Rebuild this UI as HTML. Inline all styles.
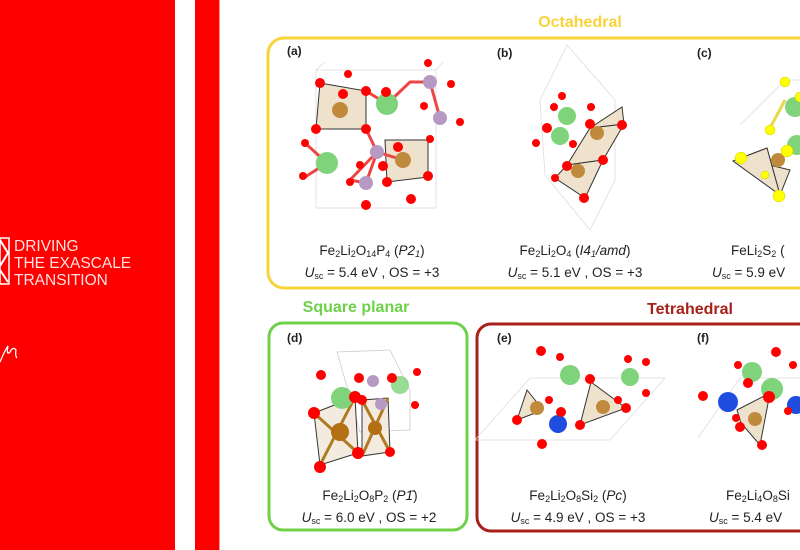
<!DOCTYPE html>
<html><head><meta charset="utf-8"><style>
html,body{margin:0;padding:0;width:800px;height:550px;overflow:hidden;background:#fff}
svg{display:block}
.t{font-family:"Liberation Sans",sans-serif;fill:#222;font-size:13.5px}
.h{font-family:"Liberation Sans",sans-serif;font-weight:bold;font-size:16px}
.lb{font-family:"Liberation Sans",sans-serif;font-size:12px;fill:#222;font-weight:bold}
</style></head><body>
<svg width="800" height="550" viewBox="0 0 800 550" xmlns="http://www.w3.org/2000/svg">
<rect x="0" y="0" width="175" height="550" fill="#ff0000"/>
<rect x="195" y="0" width="24" height="550" fill="#ff0000"/>
<rect x="219" y="0" width="1" height="550" fill="#ff9a9a"/>
<!-- logo -->
<rect x="0" y="238" width="9" height="46" fill="none" stroke="#fff" stroke-width="1.5"/>
<path d="M0 240 L8 253 L0 266 M0 270 L8 282" stroke="#fff" stroke-width="2" fill="none"/>
<g font-family="Liberation Sans,sans-serif" font-size="15.5" fill="#ffe0e0">
<text x="14" y="251">DRIVING</text>
<text x="14" y="268">THE EXASCALE</text>
<text x="14" y="285">TRANSITION</text>
</g>
<path d="M0 362 Q5 350 8 346 Q6 356 10 352 Q13 346 16 350 Q15 356 17 358" stroke="#fff" stroke-width="1.3" fill="none"/>

<!-- boxes -->
<text class="h" x="580" y="27" text-anchor="middle" fill="#f8d33a">Octahedral</text>
<rect x="268" y="38" width="560" height="250" rx="16" fill="none" stroke="#f8d33a" stroke-width="3"/>
<text class="h" x="356" y="312" text-anchor="middle" fill="#6fd04a">Square planar</text>
<rect x="269" y="323" width="198" height="207" rx="14" fill="none" stroke="#6fd04a" stroke-width="3"/>
<text class="h" x="690" y="314" text-anchor="middle" fill="#a8201a">Tetrahedral</text>
<rect x="477" y="324" width="350" height="207" rx="14" fill="none" stroke="#a8201a" stroke-width="3"/>

<text class="lb" x="287" y="55">(a)</text>
<text class="lb" x="497" y="57">(b)</text>
<text class="lb" x="697" y="57">(c)</text>
<text class="lb" x="287" y="342">(d)</text>
<text class="lb" x="497" y="342">(e)</text>
<text class="lb" x="697" y="342">(f)</text>

<!-- (a) molecule -->
<g stroke="#ddd" fill="none" stroke-width="0.8"><rect x="316" y="70" width="120" height="138"/><line x1="316" y1="70" x2="325" y2="62"/><line x1="436" y1="70" x2="443" y2="62"/></g>
<polygon points="320,83 366,91 366,129 316,129" fill="#efe2cc" stroke="#333" stroke-width="1"/>
<polygon points="385,140 428,140 428,177 387,182" fill="#efe2cc" stroke="#333" stroke-width="1"/>
<g stroke="#e44" stroke-width="3" fill="none"><path d="M366 129 L377 152 L366 183 M377 152 L403 160 M440 118 L430 82 M366 91 L387 104 L410 82 L430 82 M327 163 L305 143 M327 163 L305 177 M377 152 L350 180 L366 183"/></g>
<circle cx="340" cy="110" r="8" fill="#c08a3c"/><circle cx="403" cy="160" r="8" fill="#c08a3c"/>
<g fill="#7ed37b"><circle cx="387" cy="104" r="11"/><circle cx="327" cy="163" r="11"/></g>
<g fill="#b79ac4"><circle cx="430" cy="82" r="7"/><circle cx="440" cy="118" r="7"/><circle cx="377" cy="152" r="7"/><circle cx="366" cy="183" r="7"/></g>
<g fill="#f00"><circle cx="320" cy="83" r="5"/><circle cx="343" cy="94" r="5"/><circle cx="366" cy="91" r="5"/><circle cx="386" cy="92" r="5"/><circle cx="316" cy="129" r="5"/><circle cx="366" cy="129" r="5"/><circle cx="348" cy="74" r="4"/><circle cx="428" cy="63" r="4"/><circle cx="451" cy="84" r="4"/><circle cx="424" cy="106" r="4"/><circle cx="460" cy="122" r="4"/><circle cx="430" cy="139" r="4"/><circle cx="398" cy="147" r="5"/><circle cx="428" cy="176" r="5"/><circle cx="387" cy="182" r="5"/><circle cx="383" cy="166" r="5"/><circle cx="305" cy="143" r="4"/><circle cx="303" cy="176" r="4"/><circle cx="350" cy="182" r="4"/><circle cx="360" cy="165" r="4"/><circle cx="366" cy="205" r="5"/><circle cx="411" cy="199" r="5"/></g>

<!-- (b) molecule -->
<g stroke="#ddd" fill="none" stroke-width="0.8"><path d="M567 45 L540 100 L545 175 L590 230 L615 180 L615 100 Z"/></g>
<polygon points="590,128 624,124 603,160 567,165" fill="#efe2cc" stroke="#333"/>
<polygon points="567,165 603,160 585,198 555,178" fill="#efe2cc" stroke="#333"/>
<polygon points="590,128 622,107 624,124" fill="#efe2cc" stroke="#333"/>
<circle cx="597" cy="133" r="7" fill="#c08a3c"/><circle cx="578" cy="171" r="7" fill="#c08a3c"/>
<g fill="#7ed37b"><circle cx="567" cy="116" r="9"/><circle cx="560" cy="136" r="9"/></g>
<g fill="#f00"><circle cx="562" cy="96" r="4"/><circle cx="554" cy="107" r="4"/><circle cx="591" cy="107" r="4"/><circle cx="590" cy="124" r="5"/><circle cx="622" cy="125" r="5"/><circle cx="547" cy="128" r="5"/><circle cx="536" cy="143" r="4"/><circle cx="573" cy="144" r="4"/><circle cx="603" cy="160" r="5"/><circle cx="567" cy="166" r="5"/><circle cx="555" cy="178" r="4"/><circle cx="584" cy="198" r="5"/></g>

<!-- (c) molecule -->
<polygon points="741,158 767,148 780,195 790,170" fill="#efe2cc" stroke="#333"/>
<polygon points="741,158 767,148 780,195 733,161" fill="#efe2cc" stroke="#333"/>
<g stroke="#ddd" fill="none" stroke-width="0.8"><path d="M740 125 L785 80 L800 80"/></g>
<line x1="785" y1="100" x2="770" y2="128" stroke="#e8d84a" stroke-width="3"/>
<circle cx="778" cy="160" r="7" fill="#c08a3c"/>
<g fill="#7ed37b"><circle cx="795" cy="107" r="10"/><circle cx="797" cy="145" r="10"/></g>
<g fill="#ff0" stroke="#cc0" stroke-width="0.5"><circle cx="785" cy="82" r="5"/><circle cx="800" cy="97" r="5"/><circle cx="770" cy="130" r="5"/><circle cx="741" cy="158" r="6"/><circle cx="787" cy="151" r="6"/><circle cx="779" cy="196" r="6"/><circle cx="765" cy="175" r="4"/></g>

<!-- (d) molecule -->
<g stroke="#ccc" fill="none" stroke-width="0.8"><path d="M337 352 L390 350 L410 390 L410 430 L360 432 Z"/></g>
<polygon points="314,413 355,397 358,453 320,465" fill="#f3ebdf" stroke="#333"/>
<polygon points="362,400 388,398 390,452 362,456" fill="#f3ebdf" stroke="#333"/>
<g stroke="#b07a20" stroke-width="3" fill="none"><path d="M314 413 L358 453 M355 397 L320 465 M362 400 L390 452 M388 398 L362 456"/></g>
<circle cx="340" cy="432" r="9" fill="#b36f12"/><circle cx="375" cy="428" r="7" fill="#b36f12"/>
<g fill="#7ed37b"><circle cx="342" cy="398" r="11"/><circle cx="400" cy="385" r="9" opacity="0.8"/></g>
<g fill="#b79ac4"><circle cx="373" cy="381" r="6"/><circle cx="381" cy="404" r="6"/></g>
<g fill="#f00"><circle cx="321" cy="375" r="5"/><circle cx="359" cy="378" r="5"/><circle cx="392" cy="378" r="5"/><circle cx="314" cy="413" r="6"/><circle cx="355" cy="397" r="6"/><circle cx="358" cy="453" r="6"/><circle cx="320" cy="467" r="6"/><circle cx="362" cy="400" r="5"/><circle cx="390" cy="452" r="5"/><circle cx="417" cy="372" r="4"/><circle cx="415" cy="405" r="4"/></g>

<!-- (e) molecule -->
<g stroke="#ddd" fill="none" stroke-width="0.8"><path d="M475 440 L530 378 L665 378 L610 440 Z"/></g>
<polygon points="527,390 543,410 517,420" fill="#efe2cc" stroke="#333"/>
<polygon points="591,382 626,408 580,425" fill="#efe2cc" stroke="#333"/>
<circle cx="537" cy="408" r="7" fill="#c08a3c"/><circle cx="603" cy="407" r="7" fill="#c08a3c"/>
<g fill="#7ed37b"><circle cx="570" cy="375" r="10"/><circle cx="630" cy="377" r="9"/></g>
<circle cx="558" cy="424" r="9" fill="#1f4de0"/>
<g fill="#f00"><circle cx="541" cy="351" r="5"/><circle cx="560" cy="357" r="4"/><circle cx="590" cy="379" r="5"/><circle cx="626" cy="408" r="5"/><circle cx="580" cy="425" r="5"/><circle cx="517" cy="420" r="5"/><circle cx="549" cy="400" r="4"/><circle cx="561" cy="412" r="5"/><circle cx="542" cy="444" r="5"/><circle cx="628" cy="359" r="4"/><circle cx="646" cy="362" r="4"/><circle cx="646" cy="393" r="4"/><circle cx="618" cy="400" r="4"/></g>

<!-- (f) molecule -->
<g stroke="#ddd" fill="none" stroke-width="0.8"><path d="M698 438 L740 378 L800 378"/></g>
<polygon points="737,410 770,393 760,445 741,423" fill="#efe2cc" stroke="#333"/>
<circle cx="755" cy="419" r="7" fill="#c08a3c"/>
<g fill="#7ed37b"><circle cx="752" cy="372" r="10"/><circle cx="772" cy="389" r="11"/></g>
<g fill="#1f4de0"><circle cx="728" cy="402" r="10"/><circle cx="796" cy="405" r="9"/></g>
<g fill="#f00"><circle cx="738" cy="365" r="4"/><circle cx="776" cy="352" r="5"/><circle cx="793" cy="365" r="4"/><circle cx="748" cy="383" r="5"/><circle cx="769" cy="397" r="6"/><circle cx="703" cy="396" r="5"/><circle cx="736" cy="418" r="4"/><circle cx="740" cy="427" r="5"/><circle cx="762" cy="445" r="5"/><circle cx="788" cy="411" r="4"/></g>

<!-- captions -->
<g class="t" text-anchor="middle">
<text x="372" y="255">Fe<tspan font-size="9" dy="2">2</tspan><tspan dy="-2">Li</tspan><tspan font-size="9" dy="2">2</tspan><tspan dy="-2">O</tspan><tspan font-size="9" dy="2">14</tspan><tspan dy="-2">P</tspan><tspan font-size="9" dy="2">4</tspan><tspan dy="-2"> (</tspan><tspan font-style="italic">P2</tspan><tspan font-style="italic" font-size="9" dy="2">1</tspan><tspan dy="-2">)</tspan></text>
<text x="372" y="277"><tspan font-style="italic">U</tspan><tspan font-size="9" dy="2">sc</tspan><tspan dy="-2"> = 5.4 eV , OS = +3</tspan></text>
<text x="575" y="255">Fe<tspan font-size="9" dy="2">2</tspan><tspan dy="-2">Li</tspan><tspan font-size="9" dy="2">2</tspan><tspan dy="-2">O</tspan><tspan font-size="9" dy="2">4</tspan><tspan dy="-2"> (</tspan><tspan font-style="italic">I4</tspan><tspan font-style="italic" font-size="9" dy="2">1</tspan><tspan font-style="italic" dy="-2">/amd</tspan><tspan>)</tspan></text>
<text x="575" y="277"><tspan font-style="italic">U</tspan><tspan font-size="9" dy="2">sc</tspan><tspan dy="-2"> = 5.1 eV , OS = +3</tspan></text>
<text x="370" y="500">Fe<tspan font-size="9" dy="2">2</tspan><tspan dy="-2">Li</tspan><tspan font-size="9" dy="2">2</tspan><tspan dy="-2">O</tspan><tspan font-size="9" dy="2">8</tspan><tspan dy="-2">P</tspan><tspan font-size="9" dy="2">2</tspan><tspan dy="-2"> (</tspan><tspan font-style="italic">P1̄</tspan><tspan>)</tspan></text>
<text x="369" y="522"><tspan font-style="italic">U</tspan><tspan font-size="9" dy="2">sc</tspan><tspan dy="-2"> = 6.0 eV , OS = +2</tspan></text>
<text x="578" y="500">Fe<tspan font-size="9" dy="2">2</tspan><tspan dy="-2">Li</tspan><tspan font-size="9" dy="2">2</tspan><tspan dy="-2">O</tspan><tspan font-size="9" dy="2">8</tspan><tspan dy="-2">Si</tspan><tspan font-size="9" dy="2">2</tspan><tspan dy="-2"> (</tspan><tspan font-style="italic">Pc</tspan><tspan>)</tspan></text>
<text x="578" y="522"><tspan font-style="italic">U</tspan><tspan font-size="9" dy="2">sc</tspan><tspan dy="-2"> = 4.9 eV , OS = +3</tspan></text>
</g>
<g class="t">
<text x="731" y="255">FeLi<tspan font-size="9" dy="2">2</tspan><tspan dy="-2">S</tspan><tspan font-size="9" dy="2">2</tspan><tspan dy="-2"> (</tspan></text>
<text x="712" y="277"><tspan font-style="italic">U</tspan><tspan font-size="9" dy="2">sc</tspan><tspan dy="-2"> = 5.9 eV</tspan></text>
<text x="726" y="500">Fe<tspan font-size="9" dy="2">2</tspan><tspan dy="-2">Li</tspan><tspan font-size="9" dy="2">4</tspan><tspan dy="-2">O</tspan><tspan font-size="9" dy="2">8</tspan><tspan dy="-2">Si</tspan></text>
<text x="709" y="522"><tspan font-style="italic">U</tspan><tspan font-size="9" dy="2">sc</tspan><tspan dy="-2"> = 5.4 eV</tspan></text>
</g>
</svg>
</body></html>
